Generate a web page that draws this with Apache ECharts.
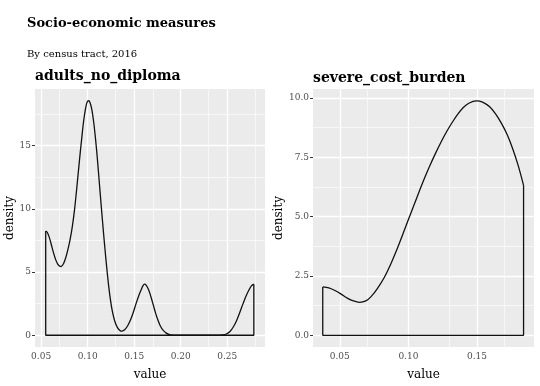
<!DOCTYPE html>
<html>
<head>
<meta charset="utf-8">
<script src="https://cdn.jsdelivr.net/npm/echarts@6/dist/echarts.min.js"></script>
<style>html,body{margin:0;padding:0;background:#fff}#c{width:540px;height:386px}</style>
</head>
<body>
<div id="c"></div>
<script>
const chartTitle = 'Socio-economic measures';
const chartSubtitle = 'By census tract, 2016';
const panelNames = ['adults_no_diploma', 'severe_cost_burden'];

// density curve of adults_no_diploma: value (x) and density (y)
const leftValues = [0.0549,0.0565,0.0585,0.0605,0.0630,0.0655,0.0680,0.0700,0.0715,0.0740,0.0765,0.0790,0.0812,0.0835,0.0860,0.0885,0.0910,0.0935,0.0955,0.0975,0.0992,0.1009,0.1026,0.1045,0.1065,0.1085,0.1105,0.1125,0.1145,0.1165,0.1185,0.1205,0.1225,0.1245,0.1265,0.1290,0.1320,0.1350,0.1370,0.1400,0.1430,0.1460,0.1490,0.1520,0.1550,0.1575,0.1595,0.1611,0.1630,0.1655,0.1680,0.1705,0.1730,0.1755,0.1780,0.1810,0.1845,0.1880,0.1920,0.1960,0.2400,0.2450,0.2490,0.2530,0.2565,0.2600,0.2635,0.2670,0.2705,0.2735,0.2760,0.2786];
const leftDensity = [8.24,8.15,7.8,7.3,6.6,6.0,5.6,5.46,5.44,5.65,6.15,6.85,7.6,8.6,10.0,11.8,13.7,15.5,16.85,17.85,18.4,18.55,18.4,17.85,16.85,15.5,13.9,12.1,10.3,8.55,6.9,5.35,3.95,2.8,1.9,1.15,0.6,0.35,0.32,0.45,0.75,1.2,1.8,2.5,3.15,3.6,3.92,4.04,3.95,3.6,3.05,2.4,1.75,1.2,0.75,0.4,0.17,0.05,0.01,0,0,0.03,0.1,0.3,0.65,1.15,1.8,2.5,3.15,3.6,3.9,4.04];

// density curve of severe_cost_burden
const rightValues = [0.0376,0.0420,0.0461,0.0510,0.0558,0.0600,0.0643,0.0690,0.0728,0.0775,0.0825,0.0875,0.0922,0.0960,0.1000,0.1040,0.1080,0.1120,0.1160,0.1200,0.1240,0.1280,0.1320,0.1360,0.1400,0.1440,0.1495,0.1540,0.1592,0.1635,0.1677,0.1720,0.1761,0.1800,0.1839];
const rightDensity = [2.04,2.0,1.90,1.74,1.56,1.45,1.39,1.45,1.63,1.98,2.45,3.05,3.70,4.27,4.88,5.48,6.08,6.66,7.2,7.7,8.17,8.6,8.98,9.32,9.6,9.78,9.88,9.83,9.63,9.33,8.94,8.45,7.84,7.15,6.32];

// axis ticks
const leftXTicks = [0.05,0.10,0.15,0.20,0.25];
const leftXMinor = [0.075,0.125,0.175,0.225,0.275];
const leftYTicks = [0,5,10,15];
const leftYMinor = [2.5,7.5,12.5,17.5];
const rightXTicks = [0.05,0.10,0.15];
const rightXMinor = [0.075,0.125,0.175];
const rightYTicks = [0,2.5,5,7.5,10];
const rightYMinor = [1.25,3.75,6.25,8.75];

const leftRange = {xmin:0.0434, xmax:0.2906, ymin:-0.93, ymax:19.48};
const rightRange = {xmin:0.0305, xmax:0.1915, ymin:-0.49, ymax:10.38};

const serif = '"DejaVu Serif", serif';
const chart = echarts.init(document.getElementById('c'), null, {renderer:'canvas'});

function pairs(xs, ys){ return xs.map((x,i)=>[x, ys[i]]); }
function outline(xs, ys){
  const n = xs.length-1;
  return [[xs[n], ys[n]], [xs[n], 0], [xs[0], 0], [xs[0], ys[0]]];
}
function gridLines(xMaj, xMin, yMaj, yMin){
  const d = [];
  xMin.forEach(v=>d.push({xAxis:v, lineStyle:{width:0.6}}));
  yMin.forEach(v=>d.push({yAxis:v, lineStyle:{width:0.6}}));
  xMaj.forEach(v=>d.push({xAxis:v, lineStyle:{width:1.3}}));
  yMaj.forEach(v=>d.push({yAxis:v, lineStyle:{width:1.3}}));
  return d;
}
function xAxisDef(idx, r, ticks, dec){
  return {gridIndex:idx, type:'value', min:r.xmin, max:r.xmax,
    name:'value', nameLocation:'middle', nameGap:22,
    nameTextStyle:{fontFamily:serif, fontSize:12, color:'#000'},
    axisLine:{show:false}, splitLine:{show:false},
    axisTick:{show:true, customValues:ticks, length:3, lineStyle:{color:'#333', width:1}},
    axisLabel:{customValues:ticks, formatter:v=>v.toFixed(dec), fontFamily:serif, fontSize:9, color:'#4D4D4D', margin:5}
  };
}
function yAxisDef(idx, r, ticks, dec, gap){
  return {gridIndex:idx, type:'value', min:r.ymin, max:r.ymax,
    name:'density', nameLocation:'middle', nameGap:gap, nameRotate:90,
    nameTextStyle:{fontFamily:serif, fontSize:12, color:'#000'},
    axisLine:{show:false}, splitLine:{show:false},
    axisTick:{show:true, customValues:ticks, length:3, lineStyle:{color:'#333', width:1}},
    axisLabel:{customValues:ticks, formatter:v=>v.toFixed(dec), fontFamily:serif, fontSize:9, color:'#4D4D4D', margin:4}
  };
}
function gridSeries(idx, d){
  return {type:'line', xAxisIndex:idx, yAxisIndex:idx, data:[], z:1, silent:true,
    markLine:{silent:true, symbol:['none','none'], label:{show:false}, animation:false,
      lineStyle:{color:'#fff', type:'solid'}, emphasis:{disabled:true}, data:d}};
}
function curveSeries(idx, data, smooth){
  return {type:'line', xAxisIndex:idx, yAxisIndex:idx, data:data, smooth:smooth, showSymbol:false, symbol:'none',
    z:5, silent:true, clip:true, lineStyle:{color:'#111', width:1.3}};
}

chart.setOption({
  animation:false,
  backgroundColor:'#fff',
  title:[
    {text:chartTitle, left:27, top:17, padding:0, textStyle:{fontFamily:serif, fontWeight:'bold', fontSize:13, color:'#000'}},
    {text:chartSubtitle, left:27, top:49, padding:0, textStyle:{fontFamily:serif, fontWeight:'normal', fontSize:10, color:'#000'}},
    {text:panelNames[0], left:35, top:69, padding:0, textStyle:{fontFamily:serif, fontWeight:'bold', fontSize:14, color:'#000'}},
    {text:panelNames[1], left:313, top:71, padding:0, textStyle:{fontFamily:serif, fontWeight:'bold', fontSize:14, color:'#000'}}
  ],
  grid:[
    {left:35, top:89, width:230, height:262, show:true, backgroundColor:'#EBEBEB', borderWidth:0},
    {left:313, top:89, width:221, height:262, show:true, backgroundColor:'#EBEBEB', borderWidth:0}
  ],
  xAxis:[xAxisDef(0, leftRange, leftXTicks, 2), xAxisDef(1, rightRange, rightXTicks, 2)],
  yAxis:[yAxisDef(0, leftRange, leftYTicks, 0, 15), yAxisDef(1, rightRange, rightYTicks, 1, 23)],
  series:[
    gridSeries(0, gridLines(leftXTicks, leftXMinor, leftYTicks, leftYMinor)),
    gridSeries(1, gridLines(rightXTicks, rightXMinor, rightYTicks, rightYMinor)),
    curveSeries(0, pairs(leftValues, leftDensity), 0.3),
    curveSeries(0, outline(leftValues, leftDensity), false),
    curveSeries(1, pairs(rightValues, rightDensity), 0.3),
    curveSeries(1, outline(rightValues, rightDensity), false)
  ]
});
</script>
</body>
</html>
